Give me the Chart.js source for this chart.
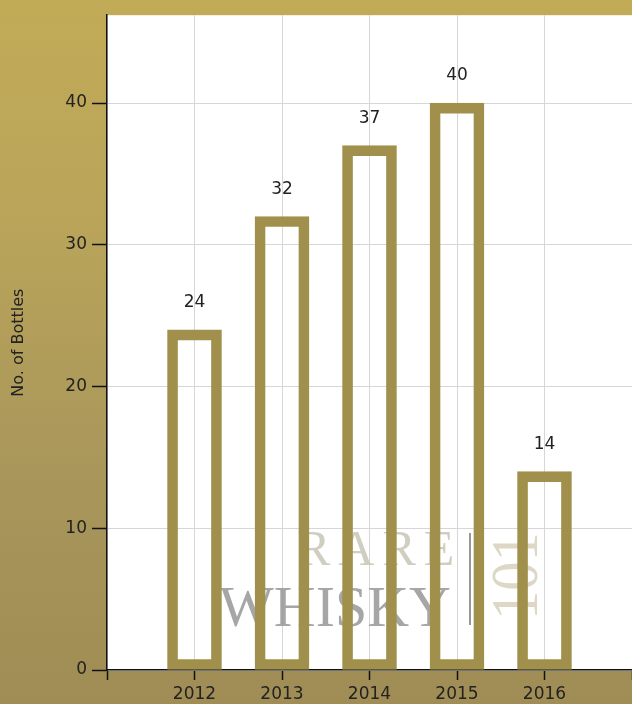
<!DOCTYPE html>
<html>
<head>
<meta charset="utf-8">
<script src="https://cdn.jsdelivr.net/npm/chart.js@4.4.1/dist/chart.umd.min.js"></script>
<style>
  html, body { margin: 0; padding: 0; }
  body {
    width: 632px; height: 704px; overflow: hidden;
    background: linear-gradient(180deg, #c2ab57 0%, #b8a35a 35%, #a8955a 70%, #a08d55 100%);
  }
  #wrap { position: relative; width: 632px; height: 704px; }
</style>
</head>
<body>
<div id="wrap"><canvas id="c" width="632" height="704"></canvas></div>
<script>
// ---- data ----
const years = [2012, 2013, 2014, 2015, 2016];
const bottles = [24, 32, 37, 40, 14];
const yTicks = [0, 10, 20, 30, 40];
const xTickLabels = ['2012', '2013', '2014', '2015', '2016'];
const yTitle = 'No. of Bottles';

const BAR = '#a0904c';
const FONT = '"DejaVu Sans", Verdana, sans-serif';

const points = years.map((y, i) => ({ x: y, y: bottles[i] }));

const plotBg = {
  id: 'plotBg',
  beforeDraw(chart) {
    const { ctx, chartArea: a } = chart;
    ctx.save();
    ctx.fillStyle = '#ffffff';
    ctx.fillRect(a.left, a.top, chart.width - a.left, a.bottom - a.top);
    ctx.restore();
  }
};

const watermark = {
  id: 'watermark',
  beforeDatasetsDraw(chart) {
    const { ctx, chartArea: a } = chart;
    const ox = a.left, oy = a.bottom;
    ctx.save();
    ctx.textBaseline = 'alphabetic';
    ctx.textAlign = 'left';
    // RARE
    ctx.font = '50px "Liberation Serif", "Times New Roman", serif';
    ctx.fillStyle = 'rgba(200,196,182,0.85)';
    let x = ox + 190;
    for (const ch of 'RARE') {
      ctx.fillText(ch, x, oy - 105);
      x += ctx.measureText(ch).width + 8;
    }
    // WHISKY
    ctx.font = '58px "Liberation Serif", "Times New Roman", serif';
    ctx.fillStyle = 'rgba(150,150,150,0.85)';
    ctx.fillText('WHISKY', ox + 112, oy - 44);
    // divider
    ctx.strokeStyle = 'rgba(140,140,140,0.9)';
    ctx.lineWidth = 2;
    ctx.beginPath();
    ctx.moveTo(ox + 363, oy - 137);
    ctx.lineTo(ox + 363, oy - 45);
    ctx.stroke();
    // 101 rotated (reads bottom to top)
    ctx.translate(ox + 430, oy - 50);
    ctx.rotate(-Math.PI / 2);
    ctx.scale(0.86, 1);
    ctx.font = '68px "Liberation Serif", "Times New Roman", serif';
    ctx.fillStyle = 'rgba(218,211,192,0.9)';
    ctx.textBaseline = 'alphabetic';
    ctx.fillText('101', 0, 0);
    ctx.restore();
  }
};

const valueLabels = {
  id: 'valueLabels',
  afterDatasetsDraw(chart) {
    const { ctx } = chart;
    const meta = chart.getDatasetMeta(0);
    ctx.save();
    ctx.font = '17px ' + FONT;
    ctx.fillStyle = '#222';
    ctx.textAlign = 'center';
    ctx.textBaseline = 'middle';
    meta.data.forEach((el, i) => {
      ctx.fillText(String(bottles[i]), el.x, el.y - 27);
    });
    ctx.restore();
  }
};

new Chart(document.getElementById('c'), {
  type: 'bar',
  data: {
    datasets: [{
      data: points,
      backgroundColor: 'rgba(0,0,0,0)',
      borderColor: BAR,
      borderWidth: 10,
      borderSkipped: false,
      barThickness: 54
    }]
  },
  options: {
    responsive: false,
    animation: false,
    events: [],
    layout: { padding: { top: 12, right: 0, left: 0, bottom: 0 } },
    plugins: { legend: { display: false }, tooltip: { enabled: false } },
    scales: {
      x: {
        type: 'linear',
        min: 2011,
        max: 2017,
        offset: false,
        afterFit(s) { s.height = 34; s.paddingRight = 0; },
        ticks: {
          stepSize: 1,
          padding: 4,
          color: '#222',
          font: { family: FONT, size: 17 },
          callback: (v) => { const i = years.indexOf(v); return i >= 0 ? xTickLabels[i] : ''; },
          maxRotation: 0,
          autoSkip: false
        },
        grid: { offset: false, color: '#d6d6d6', lineWidth: 1, tickColor: '#111', tickLength: 10, tickWidth: 1.5 },
        border: { color: '#111', width: 1.5 }
      },
      y: {
        min: 0,
        max: 46.2,
        afterFit(s) { s.width = 107; },
        afterBuildTicks(s) { s.ticks = yTicks.map(v => ({ value: v })); },
        ticks: {
          color: '#222',
          padding: 5,
          font: { family: FONT, size: 17 }
        },
        grid: { color: '#d6d6d6', lineWidth: 1, tickColor: '#111', tickLength: 15, tickWidth: 1.5 },
        border: { color: '#111', width: 1.5 },
        title: {
          display: true,
          text: yTitle,
          color: '#222',
          font: { family: FONT, size: 16 },
          padding: { top: 9, bottom: 0 }
        }
      }
    }
  },
  plugins: [plotBg, watermark, valueLabels]
});
</script>
</body>
</html>
